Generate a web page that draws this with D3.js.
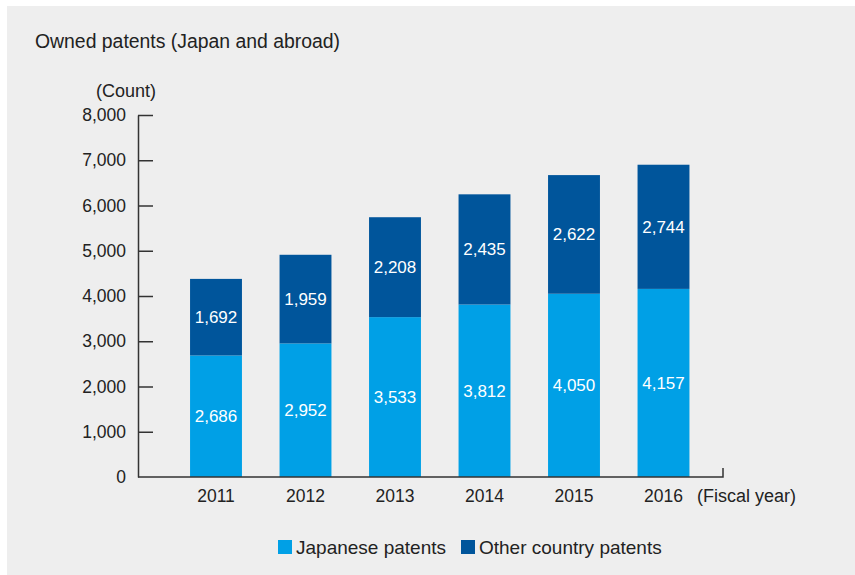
<!DOCTYPE html>
<html>
<head>
<meta charset="utf-8">
<script src="https://cdn.jsdelivr.net/npm/d3@7"></script>
<style>
  html, body { margin: 0; padding: 0; background: #fff; }
  svg { display: block; font-family: "Liberation Sans", Arial, sans-serif; }
</style>
</head>
<body>
<svg id="chart" width="855" height="575"></svg>
<script>
// Owned patents per fiscal year, split into domestic and foreign
const years = ["2011", "2012", "2013", "2014", "2015", "2016"];
const japanese = [2686, 2952, 3533, 3812, 4050, 4157];
const otherCountry = [1692, 1959, 2208, 2435, 2622, 2744];
const yTicks = [0, 1000, 2000, 3000, 4000, 5000, 6000, 7000, 8000];
const seriesNames = ["Japanese patents", "Other country patents"];
const seriesColors = ["#00a0e6", "#00559b"];

const svg = d3.select("#chart");
const fmt = d3.format(",");
const ink = "#222";

// panel background
svg.append("rect").attr("x", 7).attr("y", 6).attr("width", 848).attr("height", 569).attr("fill", "#eeeeee");

const x = d3.scaleBand().domain(years).range([171.25, 708.25]).paddingInner(0.42).paddingOuter(0.21);
const y = d3.scaleLinear().domain([0, 8000]).range([477, 115]);
const axisX0 = 138, axisX1 = 723;

// stacked data
const rows = years.map((yr, i) => ({ year: yr, jp: japanese[i], other: otherCountry[i] }));
const stack = d3.stack().keys(["jp", "other"])(rows);

const layers = svg.append("g").selectAll("g").data(stack).join("g")
  .attr("fill", (d, i) => seriesColors[i]);

layers.selectAll("rect").data(d => d).join("rect")
  .attr("x", d => x(d.data.year))
  .attr("width", x.bandwidth())
  .attr("y", d => y(d[1]))
  .attr("height", d => y(d[0]) - y(d[1]));

// value labels in the middle of each segment
layers.selectAll("text").data(d => d.map(v => ({ v, key: d.key }))).join("text")
  .attr("x", d => x(d.v.data.year) + x.bandwidth() / 2)
  .attr("y", d => (y(d.v[0]) + y(d.v[1])) / 2)
  .attr("dy", "0.35em")
  .attr("text-anchor", "middle")
  .attr("fill", "#fff")
  .attr("font-size", 17)
  .text(d => fmt(d.v.data[d.key]));

// y axis with inward ticks
const yAxis = svg.append("g").attr("transform", `translate(${axisX0},0)`)
  .call(d3.axisLeft(y).tickValues(yTicks).tickFormat(fmt).tickSizeInner(-15).tickSizeOuter(0).tickPadding(12));
yAxis.select(".domain").attr("stroke", "#333").attr("stroke-width", 1.5);
yAxis.selectAll(".tick line").attr("stroke", "#333").attr("stroke-width", 1.5);
yAxis.selectAll(".tick text").attr("font-size", 17.5).attr("fill", ink).attr("font-family", null);
yAxis.selectAll(".tick").filter(d => d === 0).select("line").remove();

// x axis baseline with end tick
svg.append("path")
  .attr("d", `M${axisX0},${y(0)}H${axisX1}V${y(0) - 9}`)
  .attr("fill", "none").attr("stroke", "#333").attr("stroke-width", 1.5);

const xAxis = svg.append("g").attr("transform", `translate(0,${y(0)})`)
  .call(d3.axisBottom(x).tickSize(0).tickPadding(12.5));
xAxis.select(".domain").remove();
xAxis.selectAll(".tick text").attr("font-size", 17.5).attr("fill", ink).attr("font-family", null);

// axis titles
svg.append("text").attr("x", 96).attr("y", 97).attr("font-size", 18).attr("fill", ink).text("(Count)");
svg.append("text").attr("x", 697).attr("y", 502).attr("font-size", 18).attr("fill", ink).text("(Fiscal year)");

// chart title
svg.append("text").attr("x", 35).attr("y", 48).attr("font-size", 19.4).attr("fill", ink).text("Owned patents (Japan and abroad)");

// legend
const legendX = [278, 461];
const legend = svg.append("g").selectAll("g").data(seriesNames).join("g")
  .attr("transform", (d, i) => `translate(${legendX[i]},540)`);
legend.append("rect").attr("width", 14).attr("height", 14).attr("fill", (d, i) => seriesColors[i]);
legend.append("text").attr("x", 18).attr("y", 14).attr("font-size", 19).attr("fill", ink).text(d => d);
</script>
</body>
</html>
